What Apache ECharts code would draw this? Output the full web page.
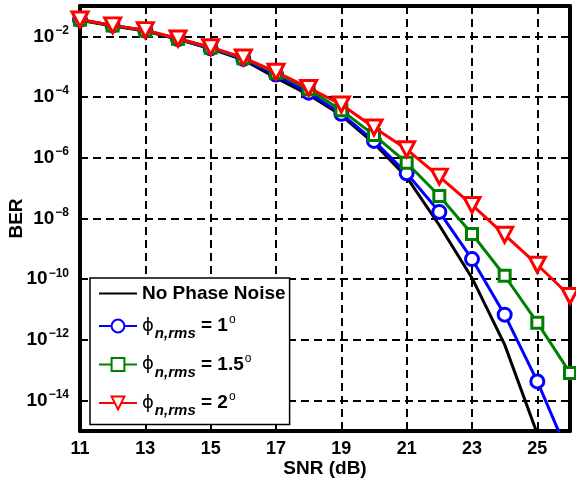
<!DOCTYPE html>
<html>
<head>
<meta charset="utf-8">
<script src="https://cdn.jsdelivr.net/npm/echarts@6/dist/echarts.min.js"></script>
<style>
  html, body { margin: 0; padding: 0; background: #fff; }
  #chart { width: 576px; height: 480px; }
</style>
</head>
<body>
<div id="chart"></div>
<script>
// SNR in dB
const snr = [11, 12, 13, 14, 15, 16, 17, 18, 19, 20, 21, 22, 23, 24, 25, 26];

// BER without phase noise (11..25 dB)
const berNoPhaseNoise = [3.4e-2, 2.2e-2, 1.5e-2, 8.0e-3, 3.9e-3, 1.7e-3, 4.3e-4, 1.2e-4,
  2.5e-5, 3.0e-6, 2.3e-7, 6.0e-9, 1.1e-10, 7.0e-13, 8.0e-16];
// BER with rms phase noise of 1 degree
const berPhi1 = [3.5e-2, 2.3e-2, 1.55e-2, 8.2e-3, 4.0e-3, 1.8e-3, 5.5e-4, 1.4e-4,
  2.8e-5, 3.6e-6, 3.1e-7, 1.65e-8, 4.6e-10, 6.8e-12, 4.3e-14, 1.3e-16];
// BER with rms phase noise of 1.5 degrees
const berPhi15 = [3.5e-2, 2.3e-2, 1.55e-2, 8.3e-3, 4.2e-3, 1.9e-3, 6.3e-4, 1.8e-4,
  3.7e-5, 5.6e-6, 6.9e-7, 5.5e-8, 3.1e-9, 1.3e-10, 3.7e-12, 8.2e-14];
// BER with rms phase noise of 2 degrees
const berPhi2 = [3.6e-2, 2.3e-2, 1.6e-2, 8.5e-3, 4.4e-3, 2.0e-3, 6.8e-4, 2.0e-4,
  5.7e-5, 1.0e-5, 1.9e-6, 2.4e-7, 2.8e-8, 2.9e-9, 3.0e-10, 2.8e-11];

// Tick positions
const xTicks = [11, 13, 15, 17, 19, 21, 23, 25];
const yTicks = [1e-14, 1e-12, 1e-10, 1e-8, 1e-6, 1e-4, 1e-2];

const FONT = '"Liberation Sans", Arial, Helvetica, sans-serif';

function pairs(ys) {
  return ys.map((y, i) => [snr[i], y]);
}

const legendText = {
  'No Phase Noise': 'No Phase Noise',
  'phi1': '{p|\u03D5}{sub|n,rms}{t| = 1}{sup|o}',
  'phi15': '{p|\u03D5}{sub|n,rms}{t| = 1.5}{sup|o}',
  'phi2': '{p|\u03D5}{sub|n,rms}{t| = 2}{sup|o}'
};

const gridLine = { show: true, lineStyle: { color: '#000', width: 2, type: [8, 5] } };

const chart = echarts.init(document.getElementById('chart'), null, { renderer: 'canvas' });

chart.setOption({
  animation: false,
  backgroundColor: '#fff',
  grid: { left: 80, right: 6, top: 6, bottom: 49, containLabel: false, outerBoundsMode: 'none' },
  xAxis: [
    {
      type: 'value', min: 11, max: 26, interval: 2,
      name: 'SNR (dB)', nameLocation: 'middle', nameGap: 28, nameMoveOverlap: false,
      nameTextStyle: { fontFamily: FONT, fontWeight: 'bold', fontSize: 19, color: '#000' },
      axisLine: { show: true, lineStyle: { color: '#000', width: 4 } },
      axisTick: { show: true, inside: true, length: 6, lineStyle: { color: '#000', width: 2 }, customValues: xTicks },
      axisLabel: { fontFamily: FONT, fontWeight: 'bold', fontSize: 18, color: '#000', margin: 9, customValues: xTicks },
      splitLine: gridLine
    },
    {
      type: 'value', min: 11, max: 26, interval: 2, position: 'top',
      axisLine: { show: true, onZero: false, lineStyle: { color: '#000', width: 4 } },
      axisTick: { show: true, inside: true, length: 6, lineStyle: { color: '#000', width: 2 }, customValues: xTicks },
      axisLabel: { show: false },
      splitLine: { show: false }
    }
  ],
  yAxis: [
    {
      type: 'log', logBase: 10, min: 1e-15, max: 1e-1,
      name: 'BER', nameLocation: 'middle', nameGap: 54, nameMoveOverlap: false,
      nameTextStyle: { fontFamily: FONT, fontWeight: 'bold', fontSize: 19, color: '#000' },
      axisLine: { show: true, onZero: false, lineStyle: { color: '#000', width: 4 } },
      axisTick: { show: true, inside: true, length: 6, lineStyle: { color: '#000', width: 2 }, customValues: yTicks },
      axisLabel: {
        customValues: yTicks, margin: 11,
        formatter: v => '{b|10}{s|\u2212' + Math.round(-Math.log10(v)) + '}',
        rich: {
          b: { fontFamily: FONT, fontWeight: 'bold', fontSize: 19, color: '#000' },
          s: { fontFamily: FONT, fontWeight: 'bold', fontSize: 12, color: '#000', padding: [0, 0, 12, 1] }
        }
      },
      splitLine: gridLine
    },
    {
      type: 'log', logBase: 10, min: 1e-15, max: 1e-1, position: 'right',
      axisLine: { show: true, onZero: false, lineStyle: { color: '#000', width: 4 } },
      axisTick: { show: true, inside: true, length: 6, lineStyle: { color: '#000', width: 2 }, customValues: yTicks },
      axisLabel: { show: false },
      splitLine: { show: false }
    }
  ],
  legend: {
    orient: 'vertical', left: 90, top: 278,
    backgroundColor: '#fff', borderColor: '#000', borderWidth: 1.5,
    padding: [6, 4, 6, 8], itemGap: 11, itemWidth: 38, itemHeight: 16,
    data: ['No Phase Noise', 'phi1', 'phi15', 'phi2'],
    formatter: name => legendText[name],
    textStyle: {
      fontFamily: FONT, fontWeight: 'bold', fontSize: 19, color: '#000',
      rich: {
        p: { fontFamily: '"DejaVu Sans"', fontWeight: 'normal', fontSize: 18, color: '#000' },
        sub: { fontFamily: FONT, fontWeight: 'bold', fontStyle: 'italic', fontSize: 15, color: '#000', padding: [16, 0, 0, 1] },
        t: { fontFamily: FONT, fontWeight: 'bold', fontSize: 19, color: '#000' },
        sup: { fontFamily: FONT, fontWeight: 'normal', fontSize: 12, color: '#000', padding: [0, 0, 12, 1] }
      }
    },
    selectedMode: false
  },
  series: [
    {
      name: 'No Phase Noise', type: 'line', data: pairs(berNoPhaseNoise),
      symbol: 'circle', showSymbol: false, clip: true, silent: true,
      lineStyle: { color: '#000', width: 3 },
      itemStyle: { color: 'rgba(0,0,0,0)', borderColor: 'rgba(0,0,0,0)', borderWidth: 0 },
      emphasis: { disabled: true }, z: 2
    },
    {
      name: 'phi1', type: 'line', data: pairs(berPhi1),
      symbol: 'circle', symbolSize: 13, showAllSymbol: true, clip: true, silent: true,
      lineStyle: { color: '#0000ff', width: 3 },
      itemStyle: { color: '#fff', borderColor: '#0000ff', borderWidth: 3 },
      emphasis: { disabled: true }, z: 3
    },
    {
      name: 'phi15', type: 'line', data: pairs(berPhi15),
      symbol: 'rect', symbolSize: 11, showAllSymbol: true, clip: true, silent: true,
      lineStyle: { color: '#008000', width: 3 },
      itemStyle: { color: '#fff', borderColor: '#008000', borderWidth: 3 },
      emphasis: { disabled: true }, z: 4
    },
    {
      name: 'phi2', type: 'line', data: pairs(berPhi2),
      symbol: 'triangle', symbolRotate: 180, symbolSize: [16, 15], showAllSymbol: true, clip: true, silent: true,
      lineStyle: { color: '#ff0000', width: 3 },
      itemStyle: { color: '#fff', borderColor: '#ff0000', borderWidth: 3 },
      emphasis: { disabled: true }, z: 5
    }
  ]
});
</script>
</body>
</html>
